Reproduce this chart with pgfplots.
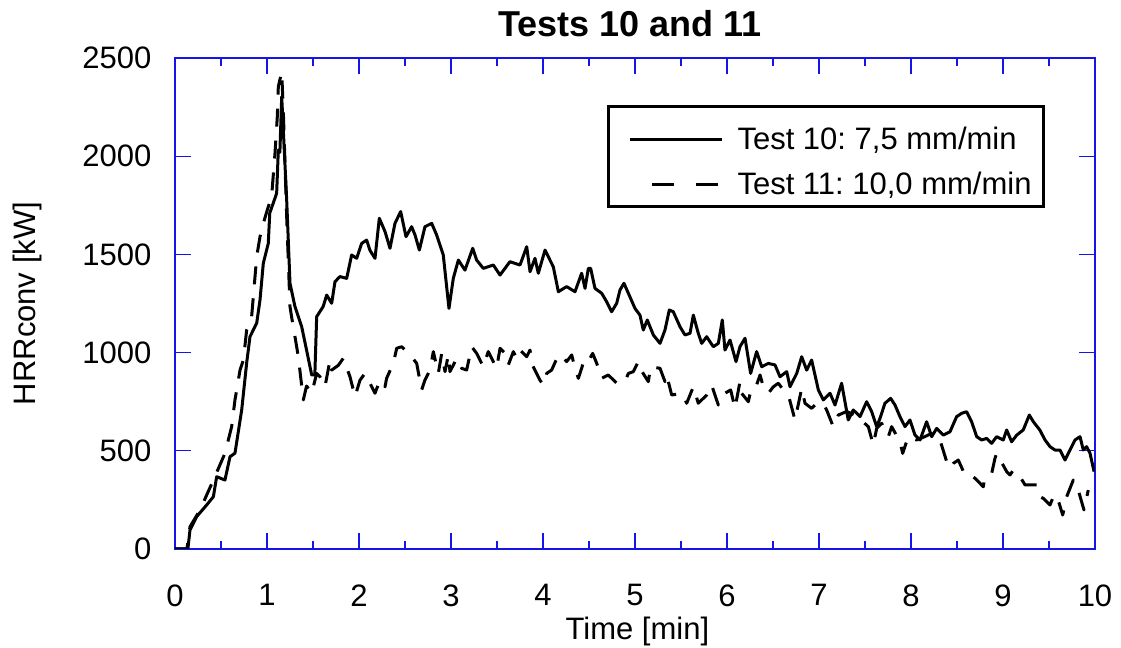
\documentclass[border=0pt]{standalone}
\usepackage{fontspec}
\setmainfont{Liberation Sans}
\usepackage{pgfplots}
\pgfplotsset{compat=1.18}
\definecolor{axblue}{RGB}{20,20,235}
\pgfplotsset{
  legsolid/.style={legend image code/.code={\path (-6pt,13.5pt) (51pt,0pt); \draw[##1] (0pt,0pt) -- (46pt,0pt);}},
  legdash/.style={legend image code/.code={\path (-6pt,0pt) (51pt,0pt); \draw[##1, dash pattern=on 11pt off 11pt, dash phase=11pt] (0pt,0pt) -- (46pt,0pt);}},
}
\frenchspacing
\begin{document}
\begin{tikzpicture}
\useasboundingbox (-87.5pt,-49.5pt) rectangle (473pt,274.5pt);
\begin{axis}[
  width=460pt, height=245.5pt, scale only axis,
  xmin=0, xmax=10, ymin=0, ymax=2500,
  xtick={0,1,...,10}, minor xtick={0.5,1.5,...,9.5},
  ytick={0,500,...,2500},
  tick align=inside, major tick length=8pt, minor tick length=4pt,
  axis line style={axblue, line width=0.8pt},
  every tick/.style={axblue, line width=0.6pt},
  /pgf/number format/assume math mode=true,
  /pgf/number format/set thousands separator={},
  scaled ticks=false,
  tick label style={font=\fontsize{15.5}{18}\selectfont},
  xticklabel style={yshift=-14.3pt},
  yticklabel style={xshift=-8.3pt},
  xlabel={Time [min]}, ylabel={HRRconv [kW]},
  label style={font=\fontsize{15.5}{18}\selectfont},
  xlabel style={at={(axis description cs:0.5,0)}, anchor=center, yshift=-41pt, xshift=1.2pt},
  ylabel style={at={(axis description cs:0,0.5)}, anchor=center, yshift=73.75pt},
  title={Tests 10 and 11},
  title style={at={(axis description cs:0.5,1)}, anchor=center, yshift=11pt, xshift=-2.5pt, font=\fontsize{18}{21}\selectfont\bfseries},
  legend cell align=left,
  legend style={at={(rel axis cs:0.9457,0.9043)}, anchor=north east, draw=black, line width=1.5pt,
    font=\fontsize{15.5}{18}\selectfont, inner xsep=4pt, inner ysep=2.5pt, row sep=5.5pt},
]
\addplot[black, line width=1.5pt, line join=round, legsolid] coordinates {
(0,0) (0.14,0) (0.163,97) (0.236,165) (0.30,200) (0.344,224) (0.417,266) (0.453,368) (0.543,351)
(0.598,470) (0.652,488) (0.725,708) (0.779,947) (0.815,1081) (0.888,1150) (0.924,1268) (0.96,1455)
(1.014,1556) (1.03,1710) (1.105,1811) (1.123,2031) (1.14,2020) (1.16,2303) (1.214,1777) (1.25,1353)
(1.304,1234) (1.377,1132) (1.43,1013) (1.486,886) (1.52,886) (1.54,1183) (1.61,1234) (1.649,1293)
(1.703,1251) (1.739,1361) (1.793,1387) (1.866,1378) (1.92,1497) (1.975,1480) (2.029,1556) (2.083,1573)
(2.12,1520) (2.174,1480) (2.221,1684) (2.283,1616) (2.337,1531) (2.391,1658) (2.453,1718) (2.511,1590)
(2.572,1641) (2.609,1599) (2.656,1522) (2.717,1641) (2.79,1658) (2.844,1599) (2.916,1497) (2.978,1225)
(3.025,1378) (3.08,1471) (3.152,1420) (3.236,1531) (3.279,1471) (3.351,1429) (3.46,1446) (3.533,1395)
(3.641,1463) (3.75,1446) (3.823,1539) (3.859,1412) (3.913,1480) (3.949,1404) (4.022,1522) (4.112,1437)
(4.167,1310) (4.257,1336) (4.348,1310) (4.42,1404) (4.457,1327) (4.493,1429) (4.518,1429) (4.565,1327)
(4.638,1302) (4.692,1259) (4.746,1208) (4.801,1251) (4.837,1319) (4.88,1353) (4.928,1302) (5.0,1225)
(5.054,1191) (5.09,1115) (5.134,1166) (5.199,1090) (5.272,1047) (5.326,1115) (5.373,1217) (5.416,1208)
(5.489,1132) (5.543,1090) (5.598,1098) (5.634,1191) (5.688,1098) (5.725,1047) (5.779,1081) (5.851,1030)
(5.906,1047) (5.949,1166) (5.978,1013) (6.033,1064) (6.098,954) (6.141,1030) (6.196,1073) (6.257,894)
(6.322,1005) (6.377,928) (6.449,945) (6.522,937) (6.576,877) (6.649,903) (6.685,826) (6.758,894)
(6.812,979) (6.866,911) (6.92,962) (6.993,810) (7.047,759) (7.12,793) (7.174,733) (7.246,844)
(7.318,657) (7.373,708) (7.446,674) (7.518,750) (7.573,699) (7.627,623) (7.663,665) (7.717,742)
(7.779,767) (7.826,733) (7.88,674) (7.935,623) (7.989,657) (8.043,580) (8.098,555) (8.17,648)
(8.225,572) (8.279,614) (8.351,580) (8.424,597) (8.496,674) (8.551,691) (8.605,699) (8.659,648)
(8.714,572) (8.768,555) (8.822,563) (8.877,538) (8.931,572) (9.003,555) (9.04,606) (9.094,546)
(9.149,580) (9.22,606) (9.286,682) (9.33,648) (9.40,606) (9.457,555) (9.511,521) (9.565,504)
(9.62,504) (9.674,453) (9.728,504) (9.783,555) (9.837,572) (9.873,504) (9.909,521) (9.946,487) (9.99,394)
};
\addlegendentry{Test 10: 7,5 mm/min}
\addplot[black, line width=1.5pt, line join=round, dash pattern=on 9pt off 7pt, legdash] coordinates {
(0,0) (0.13,0) (0.163,113) (0.272,199) (0.417,351) (0.543,487) (0.616,623) (0.652,759) (0.707,911)
(0.743,962) (0.779,1115) (0.833,1183) (0.888,1488) (0.924,1590) (0.96,1658) (1.014,1743) (1.05,1794)
(1.087,2015) (1.112,2201) (1.123,2354) (1.16,2430) (1.177,2235) (1.214,1692) (1.25,1234) (1.268,1180)
(1.286,1132) (1.34,980) (1.395,759) (1.43,830) (1.486,793) (1.54,894) (1.576,877) (1.63,826)
(1.685,962) (1.703,911) (1.775,935) (1.829,971) (1.902,877) (1.957,776) (2.011,860) (2.065,894)
(2.12,843) (2.174,793) (2.228,860) (2.283,826) (2.30,869) (2.373,945) (2.41,1022) (2.464,1030)
(2.536,996) (2.572,979) (2.627,945) (2.681,810) (2.717,860) (2.772,911) (2.808,1005) (2.862,894)
(2.899,996) (2.935,903) (2.971,988) (2.989,903) (3.062,971) (3.116,920) (3.17,911) (3.225,1030)
(3.279,996) (3.351,928) (3.405,1005) (3.496,920) (3.533,1022) (3.587,996) (3.623,937) (3.678,1005)
(3.714,971) (3.75,1013) (3.823,979) (3.859,1013) (3.884,937) (3.967,860) (4.004,835) (4.04,894)
(4.094,911) (4.167,988) (4.214,979) (4.257,954) (4.312,988) (4.33,954) (4.384,869) (4.42,920)
(4.457,979) (4.511,971) (4.54,996) (4.584,945) (4.638,869) (4.71,886) (4.801,844) (4.891,852)
(4.928,894) (4.982,903) (5.036,954) (5.054,920) (5.145,852) (5.17,928) (5.272,920) (5.326,852)
(5.344,886) (5.399,784) (5.507,793) (5.562,742) (5.634,826) (5.688,742) (5.779,784) (5.833,835)
(5.906,733) (5.978,793) (6.04,810) (6.087,716) (6.141,852) (6.159,793) (6.232,750) (6.268,826)
(6.322,835) (6.359,886) (6.395,826) (6.449,793) (6.504,826) (6.558,844) (6.612,810) (6.677,767)
(6.739,657) (6.812,818) (6.848,742) (6.92,716) (6.975,742) (7.047,742) (7.083,708) (7.155,623)
(7.21,682) (7.3,700) (7.4,680) (7.536,623) (7.59,530) (7.627,614) (7.681,640) (7.753,572)
(7.79,623) (7.88,546) (7.91,487) (7.97,572) (8.06,555) (8.15,572) (8.225,589) (8.315,555)
(8.388,445) (8.424,411) (8.46,436) (8.514,453) (8.587,377) (8.641,377) (8.696,360) (8.786,317)
(8.804,368) (8.877,385) (8.913,462) (8.931,487) (9.04,394) (9.076,377) (9.112,402) (9.185,368)
(9.24,326) (9.366,326) (9.40,266) (9.438,258) (9.511,224) (9.547,266) (9.583,275) (9.649,173)
(9.692,266) (9.764,351) (9.818,300) (9.88,199) (9.927,300)
};
\addlegendentry{Test 11: 10,0 mm/min}
\end{axis}
\end{tikzpicture}
\end{document}
